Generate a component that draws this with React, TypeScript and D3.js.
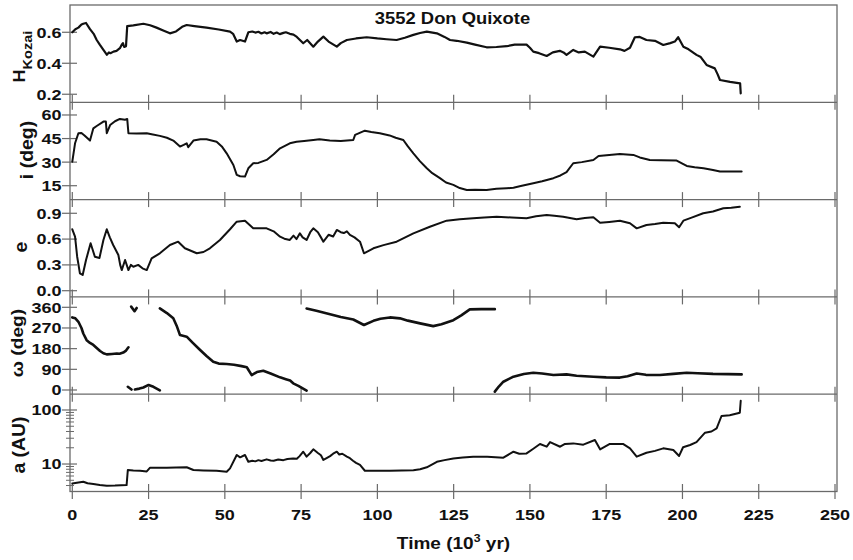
import React from "react";
import * as d3 from "d3";

// ---------- data (time in 10^3 yr) ----------
const xTickValues = [0, 25, 50, 75, 100, 125, 150, 175, 200, 225, 250];

const hTime = [0, 1, 2, 3, 3.6, 4.5, 5.8, 7, 8, 9, 10.2, 11.3, 12, 12.5, 13.5, 14.5, 15.6, 16.2, 16.6, 17, 17.6, 18, 20, 23.3, 25.5, 27.6, 30, 32, 34, 36, 37.5, 40, 44, 48, 51.7, 52.7, 53.9, 55, 56.6, 57.7, 59, 60, 61, 62, 63, 63.7, 65, 66, 67, 68, 69.2, 70, 71.3, 72.5, 73.6, 75.7, 77, 79, 80.5, 82.3, 84, 86.7, 88, 90, 93, 96.5, 100, 103, 106.3, 109, 111.8, 114, 116.2, 119.5, 122, 123.8, 126, 129.3, 132, 135.8, 139, 142.4, 145, 148.9, 150, 151.1, 153, 155.5, 157.5, 159.8, 161, 162, 164.2, 166, 168, 170.8, 173, 176, 179.5, 181, 182.8, 184.4, 186, 188.2, 191, 193.7, 196, 197.5, 198.6, 200.3, 202, 204.6, 206, 207.9, 210.6, 211.5, 212.3, 215.6, 218.9, 219.1];
const hKozai = [0.6, 0.62, 0.63, 0.65, 0.655, 0.66, 0.62, 0.59, 0.55, 0.52, 0.486, 0.455, 0.47, 0.465, 0.475, 0.48, 0.497, 0.52, 0.53, 0.505, 0.51, 0.64, 0.645, 0.655, 0.645, 0.63, 0.61, 0.593, 0.605, 0.635, 0.647, 0.64, 0.63, 0.618, 0.604, 0.59, 0.54, 0.55, 0.54, 0.6, 0.605, 0.598, 0.603, 0.592, 0.6, 0.593, 0.602, 0.59, 0.598, 0.588, 0.596, 0.6, 0.59, 0.585, 0.57, 0.529, 0.55, 0.507, 0.54, 0.572, 0.54, 0.507, 0.53, 0.55, 0.56, 0.568, 0.56, 0.555, 0.55, 0.565, 0.583, 0.595, 0.604, 0.593, 0.57, 0.55, 0.545, 0.533, 0.52, 0.503, 0.505, 0.51, 0.52, 0.52, 0.5, 0.475, 0.465, 0.447, 0.47, 0.48, 0.47, 0.454, 0.486, 0.47, 0.475, 0.443, 0.507, 0.5, 0.49, 0.48, 0.5, 0.568, 0.57, 0.55, 0.545, 0.518, 0.53, 0.54, 0.568, 0.507, 0.49, 0.454, 0.44, 0.389, 0.367, 0.33, 0.292, 0.28, 0.27, 0.206];

const iTime = [0, 0.9, 2, 3, 4, 5.8, 6.9, 8, 10.2, 11, 11.3, 12.4, 14, 15.6, 17.3, 18, 18.4, 21, 24.4, 26, 28.7, 31, 33.1, 35.3, 36.5, 37.5, 38, 39.7, 42, 44, 47.3, 49, 50.6, 52.8, 53.9, 55, 56.6, 57.7, 59.3, 61, 63.7, 66, 68.1, 71.3, 73.5, 76, 79, 81, 84.4, 88, 92.1, 92.7, 95.9, 98, 100.8, 104, 106, 108.5, 110, 111.8, 114, 116.2, 118, 120.5, 122.5, 124.9, 127, 129.3, 132, 135.8, 139, 142.4, 144.6, 147, 151.1, 154, 157.7, 160, 162, 164.2, 167, 170.8, 172.5, 176, 179.5, 183.9, 186, 189.3, 193, 198.1, 201.4, 204, 206.9, 210, 212.3, 216, 219.4];
const iDeg = [30.3, 42, 48.4, 48.6, 47, 43.7, 51.5, 53, 55.8, 55.8, 48.4, 53.6, 56, 57.5, 57, 57.5, 48.4, 48.2, 48.4, 47.8, 46.7, 45.5, 43.7, 39.9, 41, 42, 39.5, 43.7, 44.5, 44.5, 43, 40, 35.6, 28.2, 21.9, 21, 20.8, 26.1, 29.3, 29.5, 31.4, 35, 38.8, 42, 43, 43.5, 44.1, 44.5, 43.8, 43.5, 44.1, 47.3, 50, 49.2, 48.4, 47, 45.5, 44.1, 40, 35.6, 30.5, 26.1, 23, 19.8, 17, 15.5, 13.5, 12.3, 12.5, 12.3, 13, 13.4, 13.7, 14.8, 16.6, 17.8, 19.8, 21.5, 23.6, 29.3, 30, 31.4, 33.9, 34.5, 35.2, 34.6, 33, 31.4, 31.2, 31, 27.6, 26.8, 26.1, 25, 24, 24, 24];

const eTime = [0, 0.9, 1.6, 2.5, 3.4, 4.5, 6, 7.4, 8.9, 10.2, 11.3, 12.3, 13.4, 15.1, 15.7, 16.2, 17.3, 18.4, 19.2, 20, 21.6, 23, 24.4, 26, 28.7, 32, 34.7, 36.9, 40.8, 43, 45.1, 48.4, 51.7, 53.9, 56.6, 59.3, 63.7, 66, 68.1, 69.5, 71.3, 72.5, 73.5, 74.6, 75.5, 76.8, 78, 79, 80.5, 81.5, 82.3, 84, 85.5, 86.7, 88, 89, 90, 91, 92.5, 94.3, 95.6, 98.7, 102, 106.3, 111.8, 117.2, 122.7, 127, 131.4, 135, 139.1, 144, 148.9, 152, 155.5, 158, 160.9, 165.3, 168, 170.8, 173, 176, 179.5, 182.8, 185, 188.2, 191, 193.7, 197.5, 198.9, 200.3, 203, 206.8, 210, 213.4, 216, 218.8];
const eVal = [0.714, 0.628, 0.395, 0.202, 0.183, 0.357, 0.551, 0.395, 0.38, 0.59, 0.714, 0.62, 0.531, 0.415, 0.3, 0.24, 0.357, 0.24, 0.3, 0.279, 0.3, 0.26, 0.24, 0.376, 0.435, 0.531, 0.57, 0.493, 0.435, 0.45, 0.493, 0.59, 0.714, 0.802, 0.814, 0.725, 0.725, 0.69, 0.628, 0.605, 0.59, 0.64, 0.6, 0.667, 0.62, 0.59, 0.68, 0.725, 0.68, 0.62, 0.57, 0.65, 0.63, 0.706, 0.68, 0.67, 0.69, 0.648, 0.62, 0.57, 0.435, 0.493, 0.53, 0.57, 0.667, 0.744, 0.814, 0.83, 0.842, 0.85, 0.86, 0.85, 0.842, 0.865, 0.88, 0.87, 0.86, 0.83, 0.845, 0.853, 0.79, 0.8, 0.814, 0.784, 0.725, 0.764, 0.775, 0.79, 0.784, 0.737, 0.814, 0.85, 0.9, 0.92, 0.958, 0.965, 0.977];

// omega: null marks a break between separate branches
const wTime = [0, 1, 2, 3, 3.6, 4.7, 5.8, 6.9, 8, 9.1, 10.2, 11.3, 13, 14.6, 15.5, 16.7, 17.5, 18.4, null,
  19.3, 20.4, 21.1, null,
  18.2, 19.4, null,
  20.5, 22, 23.3, 25, 26.6, 28.7, null,
  28.7, 31, 33.1, 34.2, 35.3, 37.5, 39.5, 41.9, 44, 46.2, 48, 50.6, 53, 55.5, 57.2, 58.8, 60.5, 62.6, 65, 68.1, 70, 71.4, 72.4, 74.1, 76.8, null,
  76.8, 80, 84.5, 88, 92.1, 95.6, 98.7, 101, 104.1, 107.4, 110, 114, 118.3, 121, 124.9, 127.5, 130.3, 134, 138.5, null,
  138.5, 139.8, 141.3, 144.6, 148, 151.1, 154, 157.7, 162, 165.3, 170.8, 175, 179.5, 182, 185, 188, 192.6, 197, 201.4, 205, 210, 215, 219.4];
const wDeg = [316, 312, 297, 270, 246, 217, 205, 196, 183, 170, 160, 155, 157, 159, 158, 163, 170, 186, null,
  363, 343, 357, null,
  14, 2, null,
  2, 6, 11, 22, 14, -2, null,
  355, 335, 312, 280, 239, 232, 205, 174, 148, 123, 115, 113, 110, 104, 99, 65, 78, 84, 72, 55, 47, 41, 29, 18, -3, null,
  355, 345, 330, 318, 307, 283, 301, 310, 316, 312, 302, 290, 278, 286, 304, 325, 351, 352, 352, null,
  -7, 15, 36, 58, 70, 75, 72, 65, 68, 62, 58, 55, 54, 60, 72, 66, 65, 70, 75, 73, 70, 69, 68];

const aTime = [0, 1.5, 3.6, 5, 6.9, 9, 11.3, 14, 16, 17.8, 18.2, 20, 22.2, 24.4, 25.5, 28, 31, 34, 37.5, 39.7, 43, 47.3, 50.6, 51.7, 53.9, 55, 56.6, 57.7, 59, 60, 61, 62, 63.7, 65, 66, 67.5, 69.2, 70.5, 72.4, 73.6, 74.5, 75.7, 76.8, 78, 79, 80.5, 81.5, 82.3, 83.5, 84.5, 85.5, 86.7, 87.5, 88.5, 90, 91, 92, 93, 94.3, 95.9, 100, 104.1, 108, 111.8, 114, 116.2, 119.5, 122, 124.9, 128, 131.4, 136, 141.3, 144.6, 146.5, 148.9, 151, 153.3, 155.5, 156.6, 159.9, 161.5, 164.2, 167.5, 171.3, 173, 176.2, 180.5, 182.8, 185, 188.2, 191, 193.7, 197, 198.9, 200.2, 202.5, 204.6, 207.4, 209.5, 211.2, 212.8, 215.5, 218.8, 219.1];
const aAU = [4.38, 4.5, 4.7, 4.4, 4.26, 4.1, 3.97, 4.0, 4.05, 4.08, 7.74, 7.6, 7.5, 7.3, 8.55, 8.5, 8.55, 8.6, 8.7, 7.74, 7.6, 7.5, 7.2, 8.3, 14.7, 13.3, 14.7, 11, 11.5, 11.2, 11.8, 11.4, 12.2, 11.6, 11.5, 12.1, 11.8, 12.4, 12.7, 12.5, 14, 16.9, 13.7, 16, 18.7, 16, 14.5, 11.9, 13, 14, 15.5, 16.9, 15, 15.5, 13.7, 12.8, 11.5, 10.5, 9.6, 7.5, 7.5, 7.5, 7.6, 7.7, 8.0, 8.7, 11, 11.8, 12.7, 13.2, 13.7, 13.6, 13.1, 16.9, 15.5, 15.7, 19, 23.5, 21, 25.5, 20.9, 23.5, 24.1, 22.8, 27.8, 18.7, 23.5, 23.5, 19.5, 13.7, 16.2, 17.5, 19.5, 18.2, 14.1, 20.4, 22.5, 25.5, 38, 40, 45.8, 77.4, 80, 89, 148];

const hTicks = [0.2, 0.4, 0.6];
const iTicks = [15, 30, 45, 60];
const eTicks = [0.0, 0.3, 0.6, 0.9];
const wTicks = [0, 90, 180, 270, 360];
const aTicks = [10, 100];
const aMinorTicks = [4, 5, 6, 7, 8, 9, 20, 30, 40, 50, 60, 70, 80, 90];

const title = "3552 Don Quixote";

// ---------- layout ----------
const LEFT = 70;
const RIGHT = 837;
const TOP = 5;
const PH = 97.3;
const FONT = "'Liberation Sans', Arial, sans-serif";
const FRAME = "#6a6a6a";
const INK = "#111";

function SText({ x, y, sx = 1, rot = 0, anchor = "middle", size = 15, children }: any) {
  return (
    <g transform={`translate(${x},${y}) rotate(${rot}) scale(${sx},1)`}>
      <text textAnchor={anchor} fontSize={size} fontWeight="bold" fontFamily={FONT} fill={INK}>
        {children}
      </text>
    </g>
  );
}

export default function App() {
  const x = d3.scaleLinear().domain([0, 250]).range([72.3, 835]);
  const panelTop = (k: number) => TOP + k * PH;
  const yr = (k: number) => [panelTop(k) + PH, panelTop(k)];

  const yH = d3.scaleLinear().domain([0.148, 0.776]).range(yr(0));
  const yI = d3.scaleLinear().domain([6.16, 68.07]).range(yr(1));
  const yE = d3.scaleLinear().domain([-0.072, 1.059]).range(yr(2));
  const yW = d3.scaleLinear().domain([-18.3, 405.3]).range(yr(3));
  const yA = d3.scaleLog().domain([3.1, 196]).range(yr(4));

  const mk = (ts: (number | null)[], vs: (number | null)[], ys: any) => {
    const pts = ts.map((t, i) => [t, vs[i]] as [number | null, number | null]);
    return d3
      .line<[number | null, number | null]>()
      .defined((d) => d[0] != null && d[1] != null)
      .x((d) => x(d[0] as number))
      .y((d) => ys(d[1] as number))(pts) as string;
  };

  const series = [
    { d: mk(hTime, hKozai, yH), w: 2.2 },
    { d: mk(iTime, iDeg, yI), w: 2 },
    { d: mk(eTime, eVal, yE), w: 2 },
    { d: mk(wTime, wDeg, yW), w: 2.6 },
    { d: mk(aTime, aAU, yA), w: 2 },
  ];

  const yAxes = [
    { s: yH, ticks: hTicks, fmt: d3.format(".1f") },
    { s: yI, ticks: iTicks, fmt: d3.format("d") },
    { s: yE, ticks: eTicks, fmt: d3.format(".1f") },
    { s: yW, ticks: wTicks, fmt: d3.format("d") },
    { s: yA, ticks: aTicks, fmt: d3.format("d") },
  ];

  return (
    <svg width={853} height={560} style={{ position: "absolute", left: 0, top: 0, background: "#fff" }}>
      <rect x={0} y={0} width={853} height={560} fill="#fff" />
      <defs>
        {[0, 1, 2, 3, 4].map((k) => (
          <clipPath id={`clip${k}`} key={k}>
            <rect x={LEFT} y={panelTop(k)} width={RIGHT - LEFT} height={PH} />
          </clipPath>
        ))}
      </defs>

      {/* frame and panel dividers */}
      <rect x={LEFT} y={TOP} width={RIGHT - LEFT} height={PH * 5} fill="none" stroke={FRAME} strokeWidth={1.3} />
      {[1, 2, 3, 4].map((k) => (
        <line key={k} x1={LEFT} x2={RIGHT} y1={panelTop(k)} y2={panelTop(k)} stroke={FRAME} strokeWidth={1.3} />
      ))}

      {/* x ticks crossing each panel bottom */}
      {[0, 1, 2, 3, 4].map((k) =>
        xTickValues.map((t) => (
          <line
            key={`xt${k}-${t}`}
            x1={x(t)}
            x2={x(t)}
            y1={panelTop(k) + PH - 7.5}
            y2={panelTop(k) + PH + 7.5}
            stroke={FRAME}
            strokeWidth={1.2}
          />
        ))
      )}

      {/* y ticks and labels */}
      {yAxes.map((ax, k) =>
        ax.ticks.map((v) => (
          <g key={`yt${k}-${v}`}>
            <line x1={62} x2={77} y1={ax.s(v)} y2={ax.s(v)} stroke={FRAME} strokeWidth={1.2} />
            <SText x={61.5} y={ax.s(v) + 5.4} sx={1.2} anchor="end" size={15}>
              {ax.fmt(v)}
            </SText>
          </g>
        ))
      )}
      {aMinorTicks.map((v) => (
        <line key={`am${v}`} x1={66} x2={74} y1={yA(v)} y2={yA(v)} stroke={FRAME} strokeWidth={1} />
      ))}

      {/* data lines */}
      {series.map((s, k) => (
        <path
          key={`s${k}`}
          d={s.d}
          fill="none"
          stroke={INK}
          strokeWidth={s.w}
          strokeLinejoin="round"
          strokeLinecap="round"
          clipPath={`url(#clip${k})`}
        />
      ))}

      {/* x tick labels */}
      {xTickValues.map((t) => (
        <SText key={`xl${t}`} x={x(t)} y={520} sx={1.2} size={15}>
          {String(t)}
        </SText>
      ))}

      {/* title */}
      <SText x={452.5} y={24} sx={1.15} size={16}>
        {title}
      </SText>

      {/* y axis titles */}
      <g transform={`translate(24.5,56.5) rotate(-90) scale(1.12,1)`}>
        <text textAnchor="middle" fontWeight="bold" fontFamily={FONT} fill={INK} fontSize={16}>
          H
          <tspan fontSize={13} dy={7}>
            Kozai
          </tspan>
        </text>
      </g>
      <SText x={33} y={150} rot={-90} sx={1.08} size={18}>
        i (deg)
      </SText>
      <SText x={27} y={247} rot={-90} sx={1.08} size={18}>
        e
      </SText>
      <SText x={23} y={343} rot={-90} sx={1.2} size={16}>
        ω (deg)
      </SText>
      <SText x={24.5} y={445} rot={-90} sx={1.08} size={18}>
        a (AU)
      </SText>

      {/* x axis title */}
      <g transform={`translate(453.5,549) scale(1.12,1)`}>
        <text textAnchor="middle" fontWeight="bold" fontFamily={FONT} fill={INK} fontSize={17}>
          Time (10
          <tspan fontSize={11} dy={-7}>
            3
          </tspan>
          <tspan dy={7}> yr)</tspan>
        </text>
      </g>
    </svg>
  );
}
